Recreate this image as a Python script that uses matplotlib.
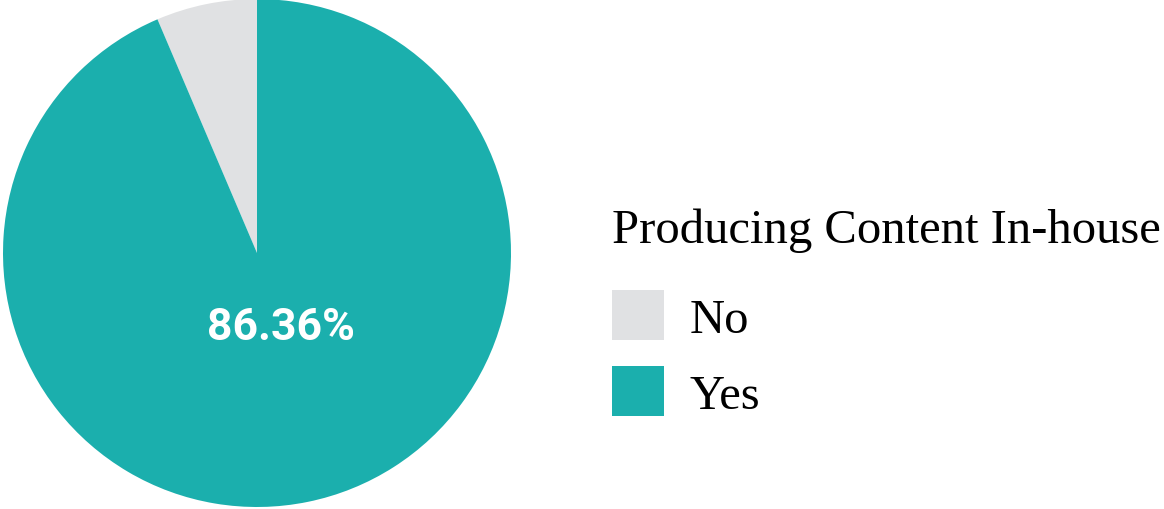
import matplotlib.pyplot as plt

# data
labels = ["No", "Yes"]
shares = [6.41, 93.59]          # slice sizes as drawn
slice_text = ["", "86.36%"]     # printed label
colors = ["#E0E1E3", "#1BAFAD"]
legend_title = "Producing Content In-house"

fig = plt.figure(figsize=(11.64, 5.10), dpi=100)
ax = fig.add_axes([3 / 1164, 2 / 510, 508 / 1164, 508 / 510])

wedges, texts = ax.pie(shares, colors=colors, startangle=90, counterclock=True,
                       labels=slice_text, labeldistance=0.29, radius=1,
                       wedgeprops=dict(linewidth=0))
for t in texts:
    t.set_color("white")
    t.set_fontfamily("Roboto")
    t.set_fontweight("bold")
    t.set_fontsize(32)
    t.set_ha("center")
    t.set_va("center")
    t.set_position((0.095, -0.29))
ax.set_xlim(-1, 1)
ax.set_ylim(-1, 1)
ax.set_aspect("equal")

fig.text(612 / 1164, 1 - 243 / 510, legend_title, family="Liberation Serif",
         fontsize=35, ha="left", va="baseline")

leg = fig.legend(wedges, labels, loc="upper left",
                 bbox_to_anchor=(612 / 1164, 1 - 291 / 510), frameon=False,
                 prop=dict(family="Liberation Serif", size=35),
                 handlelength=1.07, handleheight=1.22, handletextpad=0.52,
                 labelspacing=0.5, borderpad=0, borderaxespad=0)

fig.savefig("out.png", dpi=100)
